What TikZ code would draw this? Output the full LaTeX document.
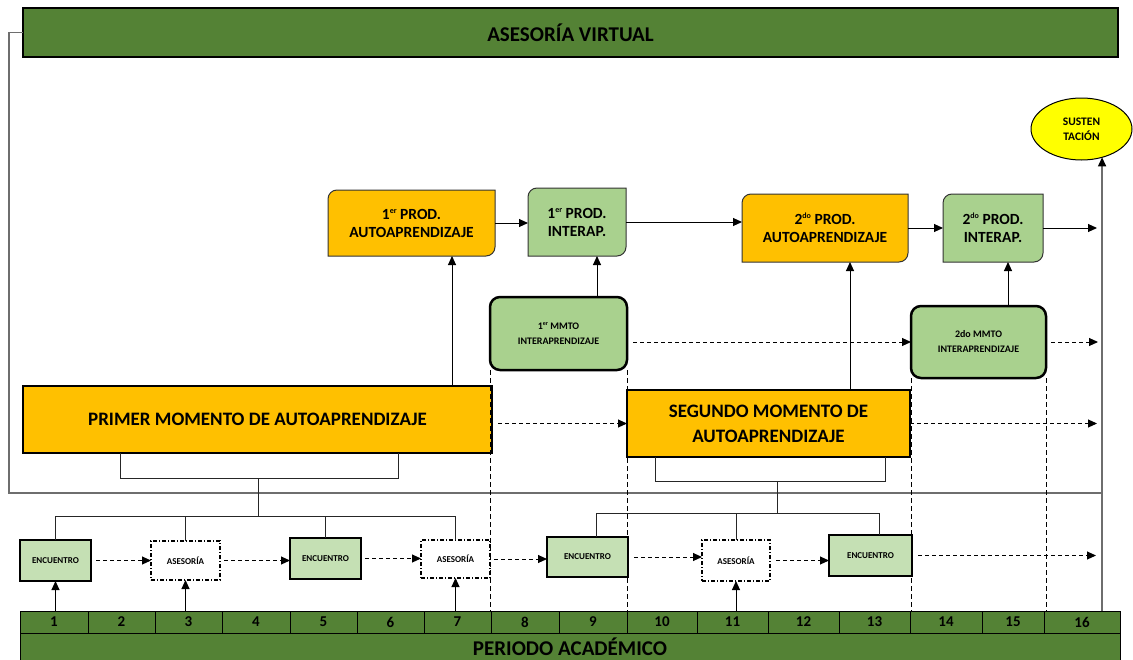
\documentclass[tikz,border=0pt]{standalone}
\usepackage{fontspec}
\setmainfont{Carlito}
\usetikzlibrary{arrows.meta,shapes.geometric,backgrounds,calc}
\definecolor{dgreen}{HTML}{548235}
\definecolor{orng}{HTML}{FFC000}
\definecolor{lgreen}{HTML}{A9D18E}
\definecolor{pgreen}{HTML}{C5E0B4}
\definecolor{ylw}{HTML}{FFFF00}
\definecolor{lgray}{HTML}{6E6E6E}
\newcommand\pbshape[2]{%
  \begin{pgfonlayer}{background}
  \draw[line width=1pt,draw=black!80,fill=#2] (#1.south west) -- ([yshift=-9pt]#1.north west)
    to[out=90,in=180] ([xshift=9pt]#1.north west) -- (#1.north east)
    -- ([yshift=9pt]#1.south east) to[out=-90,in=0] ([xshift=-9pt]#1.south east) -- cycle;
  \end{pgfonlayer}}
\newcommand\mysup[2]{\raisebox{0.75ex}{\fontsize{#1}{#1}\selectfont #2}}
\begin{document}
\begin{tikzpicture}[x=1pt,y=-1pt,
  box/.style={inner sep=0pt,outer sep=0pt,align=center,text=black},
  sz/.style 2 args={minimum width=#1pt,minimum height=#2pt},
  bar/.style={box,fill=dgreen,draw=black,line width=1.5pt,font=\bfseries\fontsize{21}{25}\selectfont},
  prodtxt/.style={box,font=\bfseries\fontsize{15.5}{18}\selectfont},
  mmto/.style={box,fill=lgreen,draw=black,line width=2.5pt,rounded corners=10pt,font=\bfseries\fontsize{10}{15}\selectfont},
  mom/.style={box,fill=orng,draw=black,line width=2pt,font=\bfseries\fontsize{19}{25}\selectfont},
  enc/.style={box,fill=pgreen,draw=black,line width=2.5pt,font=\bfseries\fontsize{9}{11}\selectfont},
  ase/.style={box,fill=white,draw=black,line width=1.2pt,dash pattern=on 4pt off 2pt on 1pt off 2pt,font=\bfseries\fontsize{9}{11}\selectfont},
  cell/.style={box,fill=dgreen,draw=black,line width=0.8pt,minimum height=22pt,font=\bfseries\fontsize{15}{16}\selectfont},
  arr/.style={-{Triangle[length=9pt,width=8pt]},line width=1pt,black},
  darr/.style={arr,dash pattern=on 4pt off 3pt},
  vdash/.style={line width=1pt,black,dash pattern=on 5pt off 3pt},
  gline/.style={line width=1.3pt,lgray},
  bline/.style={line width=1pt,black!85}
]
\useasboundingbox (0,0) rectangle (1133,659);

% top bar
\node[bar,sz={1095}{49}] (virt) at (570.5,32.5) {ASESORÍA VIRTUAL};

% product boxes
\node[prodtxt,sz={167}{66}] (prod1a) at (411.5,223) {1\mysup{8}{er} PROD.\\AUTOAPRENDIZAJE};
\node[prodtxt,sz={98}{68}] (prod1i) at (577,222) {1\mysup{8}{er} PROD.\\INTERAP.};
\node[prodtxt,sz={166}{68}] (prod2a) at (825,228) {2\mysup{8}{do} PROD.\\AUTOAPRENDIZAJE};
\node[prodtxt,sz={100}{68}] (prod2i) at (993,228) {2\mysup{8}{do} PROD.\\INTERAP.};
\pbshape{prod1a}{orng}
\pbshape{prod1i}{lgreen}
\pbshape{prod2a}{orng}
\pbshape{prod2i}{lgreen}

% sustentacion
\node[ellipse,fill=ylw,draw=black,line width=1pt,inner sep=0pt,outer sep=0pt,sz={101}{62},align=center,font=\bfseries\fontsize{11.5}{15}\selectfont] (sus) at (1081.5,129) {SUSTEN\\TACIÓN};

% interaprendizaje moments
\node[mmto,sz={137}{73}] (mmto1) at (558.5,333.5) {1\mysup{6}{er} MMTO\\INTERAPRENDIZAJE};
\node[mmto,sz={135}{72}] (mmto2) at (978.5,342) {2do MMTO\\INTERAPRENDIZAJE};

% autoaprendizaje moments
\node[mom,sz={469}{67}] (prim) at (257.5,419.5) {PRIMER MOMENTO DE AUTOAPRENDIZAJE};
\node[mom,sz={283}{67}] (seg) at (768.5,423.5) {SEGUNDO MOMENTO DE\\AUTOAPRENDIZAJE};

% encounters
\node[enc,sz={71}{41}] (enc1) at (55.5,560.5) {ENCUENTRO};
\node[ase,sz={69}{39}] (ase3) at (185.5,560.5) {ASESORÍA};
\node[enc,sz={71}{41}] (enc5) at (325.5,558.5) {ENCUENTRO};
\node[ase,sz={69}{38}] (ase7) at (455.5,559) {ASESORÍA};
\node[enc,sz={81}{40}] (enc9) at (587.5,557) {ENCUENTRO};
\node[ase,sz={68}{41}] (ase11) at (736,560.5) {ASESORÍA};
\node[enc,sz={83}{41}] (enc13) at (870.5,555.5) {ENCUENTRO};

% period row
\foreach \i/\c/\w in {1/54/68,2/121.5/67,3/188.5/67,4/256/68,5/323.5/67,6/390.5/67,7/457.5/67,8/525/68,9/593/68,10/662/70,11/732.5/71,12/803.5/71,13/874.5/71,14/946/72,15/1013/62,16/1082/76}
  \node[cell,minimum width=\w pt] (c\i) at (\c,622) {\i};
\node[bar,line width=1pt,sz={1100}{28}] (per) at (570,647) {PERIODO ACADÉMICO};

% coordinates
\coordinate (xp1) at (452,0);
\coordinate (xp2) at (597,0);
\coordinate (xp3) at (850,0);
\coordinate (xp4) at (1008,0);
\coordinate (e1) at (1097,228);
\coordinate (e2) at (1097,0);
\coordinate (e3) at (1098,0);
\coordinate (e4) at (1096,0);
\coordinate (gl) at (9,0);
\coordinate (gr) at (1102,493);
\coordinate (pbl) at (120,478);
\coordinate (pbr) at (398,478);
\coordinate (pb) at (258,478);
\coordinate (ph) at (258,516);
\coordinate (sbl) at (655,481);
\coordinate (sbr) at (885,481);
\coordinate (sb) at (777,481);
\coordinate (sh) at (777,513);
\coordinate (s9) at (596,513);
\coordinate (s13) at (879,513);

% gray frame line
\draw[gline] (virt.west) -- (virt.west -| gl) |- (gr);
\draw[gline,-{Triangle[length=9pt,width=8pt,color=black]}] (sus.-54 |- c16.north) -- (sus.-54);

% dashed verticals
\draw[vdash] (mmto1.south west) -- (mmto1.south west |- c8.north);
\draw[vdash] (mmto1.south east) -- (mmto1.south east |- c10.north);
\draw[vdash] (mmto2.south west) -- (mmto2.south west |- c14.north);
\draw[vdash] (mmto2.south east) -- (mmto2.south east |- c16.north);

% solid arrows upper part
\draw[arr] (prod1a.east) -- (prod1a.east -| prod1i.west);
\draw[arr] (prod1i.east) -- (prod1i.east -| prod2a.west);
\draw[arr] (prod2a.east) -- (prod2a.east -| prod2i.west);
\draw[arr] (prod2i.east) -- (e1);
\draw[arr] (prim.north -| xp1) -- (prod1a.south -| xp1);
\draw[arr] (mmto1.north -| xp2) -- (prod1i.south -| xp2);
\draw[arr] (seg.north -| xp3) -- (prod2a.south -| xp3);
\draw[arr] (mmto2.north -| xp4) -- (prod2i.south -| xp4);

% dashed arrows
\draw[darr,shorten <=6pt] (seg.west -| prim.east) -- (seg.west);
\draw[darr] (seg.east) -- (seg.east -| e2);
\draw[darr,shorten <=6pt] (mmto2.west -| mmto1.east) -- (mmto2.west);
\draw[darr,shorten <=5pt] (mmto2.east) -- (mmto2.east -| e3);
\draw[darr,shorten <=5pt] (enc1.east) -- (enc1.east -| ase3.west);
\draw[darr,shorten <=4pt] (ase3.east) -- (ase3.east -| enc5.west);
\draw[darr,shorten <=4pt] (enc5.east) -- (enc5.east -| ase7.west);
\draw[darr,shorten <=4pt] (ase7.east) -- (ase7.east -| enc9.west);
\draw[darr,shorten <=6pt] (enc9.east) -- (enc9.east -| ase11.west);
\draw[darr,shorten <=6pt] (ase11.east) -- (ase11.east -| enc13.west);
\draw[darr,shorten <=6pt] (enc13.east) -- (enc13.east -| e4);

% period arrows
\draw[arr] (enc1.south |- c1.north) -- (enc1.south);
\draw[arr] (ase3.south |- c3.north) -- (ase3.south);
\draw[arr] (ase7.south |- c7.north) -- (ase7.south);
\draw[arr] (ase11.south |- c11.north) -- (ase11.south);

% brackets
\draw[bline] (prim.south -| pbl) -- (pbl) -- (pbr) -- (prim.south -| pbr);
\draw[bline] (pb) -- (ph);
\draw[bline] (enc1.north) -- (enc1.north |- ph) -- (ase7.north |- ph) -- (ase7.north);
\draw[bline] (ase3.north) -- (ase3.north |- ph);
\draw[bline] (enc5.north) -- (enc5.north |- ph);
\draw[bline] (seg.south -| sbl) -- (sbl) -- (sbr) -- (seg.south -| sbr);
\draw[bline] (sb) -- (sh);
\draw[bline] (enc9.north -| s9) -- (s9) -- (s13) -- (enc13.north -| s13);
\draw[bline] (ase11.north) -- (ase11.north |- s9);
\end{tikzpicture}
\end{document}
